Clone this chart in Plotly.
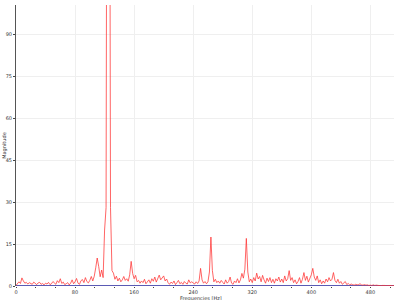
import plotly.graph_objects as go

step_hz = 2
magnitude = [
    # 0..38
    0.2, 0.8, 1.5, 0.9, 2.9, 1.8, 1.0, 1.3, 0.7, 1.2, 1.0, 0.6, 1.4, 0.9, 0.5, 1.1, 1.3, 0.6, 0.9, 0.4,
    # 40..78
    1.0, 0.7, 1.3, 0.5, 0.8, 1.6, 1.1, 0.6, 1.9, 1.2, 2.6, 0.9, 1.4, 0.5, 0.8, 1.2, 0.4, 1.0, 2.2, 0.8,
    # 80..118
    1.5, 2.7, 1.0, 0.6, 1.9, 2.3, 1.2, 3.0, 1.6, 1.1, 2.0, 3.4, 1.8, 3.5, 6.5, 10.0, 7.0, 3.3, 5.7, 3.0,
    # 120..158
    20.0, 28.0, 300.0, 300.0, 28.0, 5.5, 4.6, 2.4, 3.5, 1.8, 2.8, 1.5, 2.2, 3.4, 2.0, 2.6, 1.7, 4.0, 8.8, 4.5,
    # 160..198
    2.6, 3.8, 1.5, 2.0, 1.0, 1.8, 1.2, 2.4, 0.8, 1.5, 2.2, 1.0, 2.6, 1.7, 3.2, 1.4, 2.5, 3.9, 2.2, 3.0,
    # 200..238
    3.6, 1.8, 2.5, 1.2, 0.6, 1.4, 0.9, 1.8, 0.5, 1.2, 2.0, 0.8, 1.3, 0.6, 1.6, 1.0, 0.7, 2.2, 1.1, 1.5,
    # 240..278
    1.0, 0.7, 1.5, 0.9, 1.8, 6.3, 2.2, 1.0, 1.6, 0.8, 1.5, 5.0, 17.5, 5.5, 1.5, 2.4, 1.2, 1.8, 1.0, 2.0,
    # 280..318
    1.3, 0.7, 2.2, 1.0, 1.6, 3.2, 1.0, 0.6, 1.8, 1.2, 2.6, 1.1, 2.2, 4.5, 2.8, 6.0, 17.0, 5.0, 1.5, 2.5,
    # 320..358
    1.2, 3.0, 1.8, 4.6, 2.5, 3.4, 1.5, 3.8, 2.2, 1.0, 2.8, 1.6, 3.0, 1.2, 2.4, 1.0, 2.6, 1.8, 3.2, 1.4,
    # 360..398
    2.5, 1.2, 3.6, 1.8, 2.6, 5.5, 2.0, 3.0, 1.2, 2.2, 0.8, 1.6, 3.0, 1.0, 2.4, 4.8, 2.0, 3.5, 1.4, 2.8,
    # 400..438
    4.0, 6.3, 3.2, 2.0, 3.6, 1.2, 2.2, 0.8, 1.8, 1.0, 2.5, 1.5, 3.0, 1.8, 2.4, 4.8, 2.0, 1.2, 2.4, 1.0,
    # 440..478
    1.6, 0.6, 1.2, 1.6, 0.5, 0.9, 0.4, 0.7, 0.5, 0.3, 0.6, 0.4, 0.5, 0.8, 0.4, 0.3, 0.5, 0.3, 0.4, 0.2,
    # 480..512
    0.3, 0.2, 0.4, 0.2, 0.3, 0.2, 0.3, 0.1, 0.2, 0.3, 0.2, 0.1, 0.2, 0.3, 0.2, 0.1, 0.2,
]
frequencies = [i * step_hz for i in range(len(magnitude))]
baseline = [0.0 for _ in frequencies]

x_ticks = [0, 80, 160, 240, 320, 400, 480]
y_ticks = [0, 15, 30, 45, 60, 75, 90]
x_title = "Frequencies [Hz]"
y_title = "Magnitude"

fig = go.Figure()
fig.add_trace(go.Scatter(x=frequencies, y=baseline, mode="lines",
                         line=dict(color="#5a5ab4", width=2), hoverinfo="skip"))
fig.add_trace(go.Scatter(x=frequencies, y=magnitude, mode="lines",
                         line=dict(color="rgba(255,50,50,0.75)", width=1)))

title_font = dict(family="DejaVu Sans", size=5, color="#333333")
axis_font = dict(family="DejaVu Sans", size=5, color="#333333")
fig.update_layout(
    width=400, height=300,
    margin=dict(l=16, r=6, t=5, b=14, autoexpand=False),
    paper_bgcolor="white", plot_bgcolor="white",
    showlegend=False,
    xaxis=dict(range=[0, 512], tickvals=x_ticks, tickfont=axis_font, automargin=False,
               showgrid=True, gridcolor="#efefef", gridwidth=1,
               zeroline=False, showline=False,
               ticks="outside", ticklen=1, tickcolor="#444444",
               minor=dict(dtick=80 / 3, tick0=0, ticks="outside", ticklen=1, tickcolor="#444444", showgrid=False)),
    yaxis=dict(range=[0, 100.4], tickvals=y_ticks, tickfont=axis_font, automargin=False,
               showgrid=True, gridcolor="#efefef", gridwidth=1,
               zeroline=False, showline=True, linecolor="#555555", linewidth=1,
               ticks="outside", ticklen=2, tickcolor="#444444"),
    annotations=[
        dict(text=x_title, xref="paper", yref="paper", x=0.49, y=-0.045,
             xanchor="center", yanchor="middle", showarrow=False, font=title_font),
        dict(text=y_title, xref="paper", yref="paper", x=-0.031, y=0.5,
             xanchor="center", yanchor="middle", showarrow=False, textangle=-90, font=title_font),
    ],
)

fig.write_html("out.html")
